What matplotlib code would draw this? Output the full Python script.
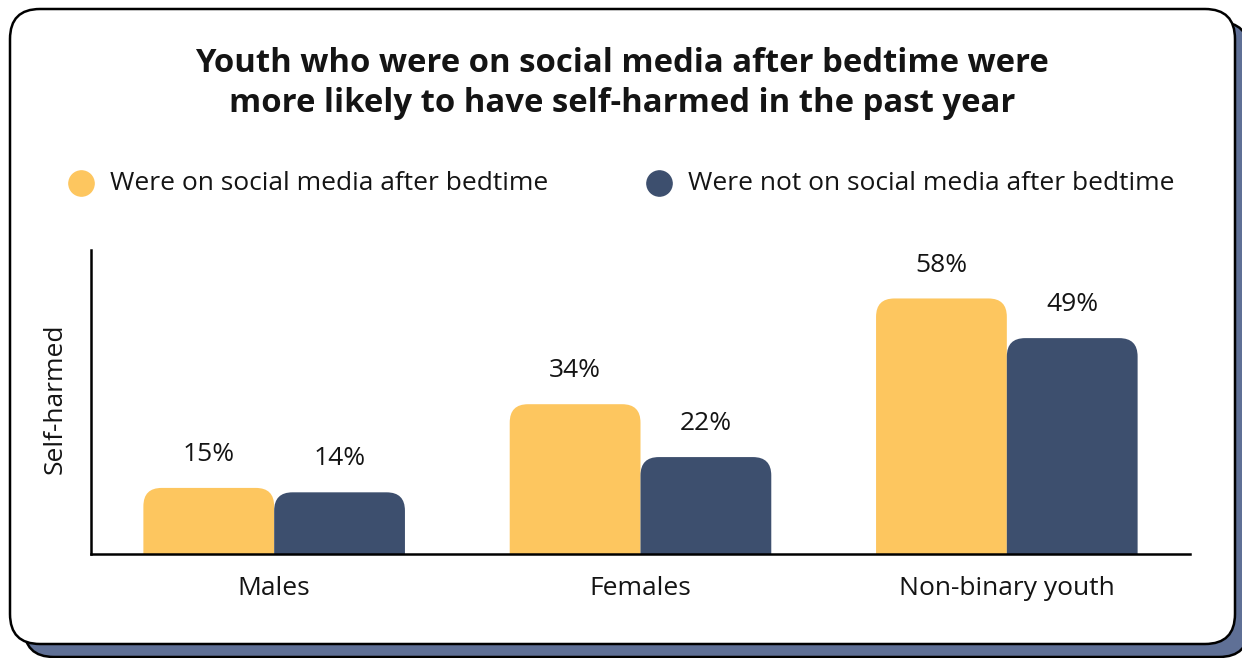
import numpy as np
import matplotlib.pyplot as plt
from matplotlib.patches import FancyBboxPatch

plt.rcParams['font.family'] = ['Open Sans', 'DejaVu Sans']
plt.rcParams['font.stretch'] = 'normal'

# data
groups = ["Males", "Females", "Non-binary youth"]
after_bedtime = [15, 34, 58]
not_after_bedtime = [14, 22, 49]
series_names = ["Were on social media after bedtime",
                "Were not on social media after bedtime"]
title = ("Youth who were on social media after bedtime were\n"
         "more likely to have self-harmed in the past year")
ylabel = "Self-harmed"

YELLOW = "#FDC65F"
NAVY = "#3D4F6E"
SHADOW = "#5F7096"
TEXT = "#141414"
FS = 19

W, H = 1242, 658
fig = plt.figure(figsize=(W / 100, H / 100), dpi=100)

# background card with offset shadow, drawn in pixel units
bg = fig.add_axes([0, 0, 1, 1])
bg.set_xlim(0, W)
bg.set_ylim(H, 0)
bg.axis("off")
shadow = FancyBboxPatch((24, 22), 1225, 635, boxstyle="round,pad=0,rounding_size=30",
                        fc=SHADOW, ec="black", lw=1.8)
card = FancyBboxPatch((10, 9), 1225, 635, boxstyle="round,pad=0,rounding_size=30",
                      fc="white", ec="black", lw=1.8)
bg.add_patch(shadow)
bg.add_patch(card)

bg.text(622, 83, title, ha="center", va="center", fontsize=23.7,
        fontweight="bold", fontstretch="normal", color=TEXT, linespacing=1.28)

# legend
for cx, color, name in zip([81, 659], [YELLOW, NAVY], series_names):
    bg.scatter([cx], [183], s=330, color=color, zorder=3)
    bg.text(cx + 29, 183, name, ha="left", va="center", fontsize=FS, color=TEXT)

# bar chart
ax = fig.add_axes([91 / W, 1 - 554 / H, 1099 / W, 304 / H])
ax.set_xlim(-0.5, 2.5)
ax.set_ylim(0, 69)
ax.patch.set_alpha(0)

bw = 0.357
r = 0.05
# y units per x unit on screen, so the corners come out circular
aspect = (69 / 304) / (3 / 1099)
x = np.arange(len(groups))
for vals, color, off in [(after_bedtime, YELLOW, -1), (not_after_bedtime, NAVY, 0)]:
    for xi, v in zip(x, vals):
        left = xi + off * bw
        bar = FancyBboxPatch((left, -10), bw, v + 10,
                             boxstyle=f"round,pad=0,rounding_size={r}",
                             mutation_aspect=aspect, fc=color, ec="none")
        ax.add_patch(bar)
        ax.annotate(f"{v}%", (left + bw / 2, v), xytext=(0, 15),
                    textcoords="offset points", ha="center", va="bottom",
                    fontsize=FS, color=TEXT)

for side in ["top", "right"]:
    ax.spines[side].set_visible(False)
for side in ["left", "bottom"]:
    ax.spines[side].set_linewidth(1.8)
    ax.spines[side].set_color("black")
    ax.spines[side].set_zorder(5)

ax.set_yticks([])
ax.set_xticks(x)
ax.set_xticklabels(groups, fontsize=FS, color=TEXT)
ax.tick_params(axis="x", length=0, pad=16)
ax.text(-36 / 1099, 0.51, ylabel, transform=ax.transAxes, rotation=90,
        ha="center", va="center", fontsize=FS, color=TEXT)

fig.savefig("out.png", dpi=100)
